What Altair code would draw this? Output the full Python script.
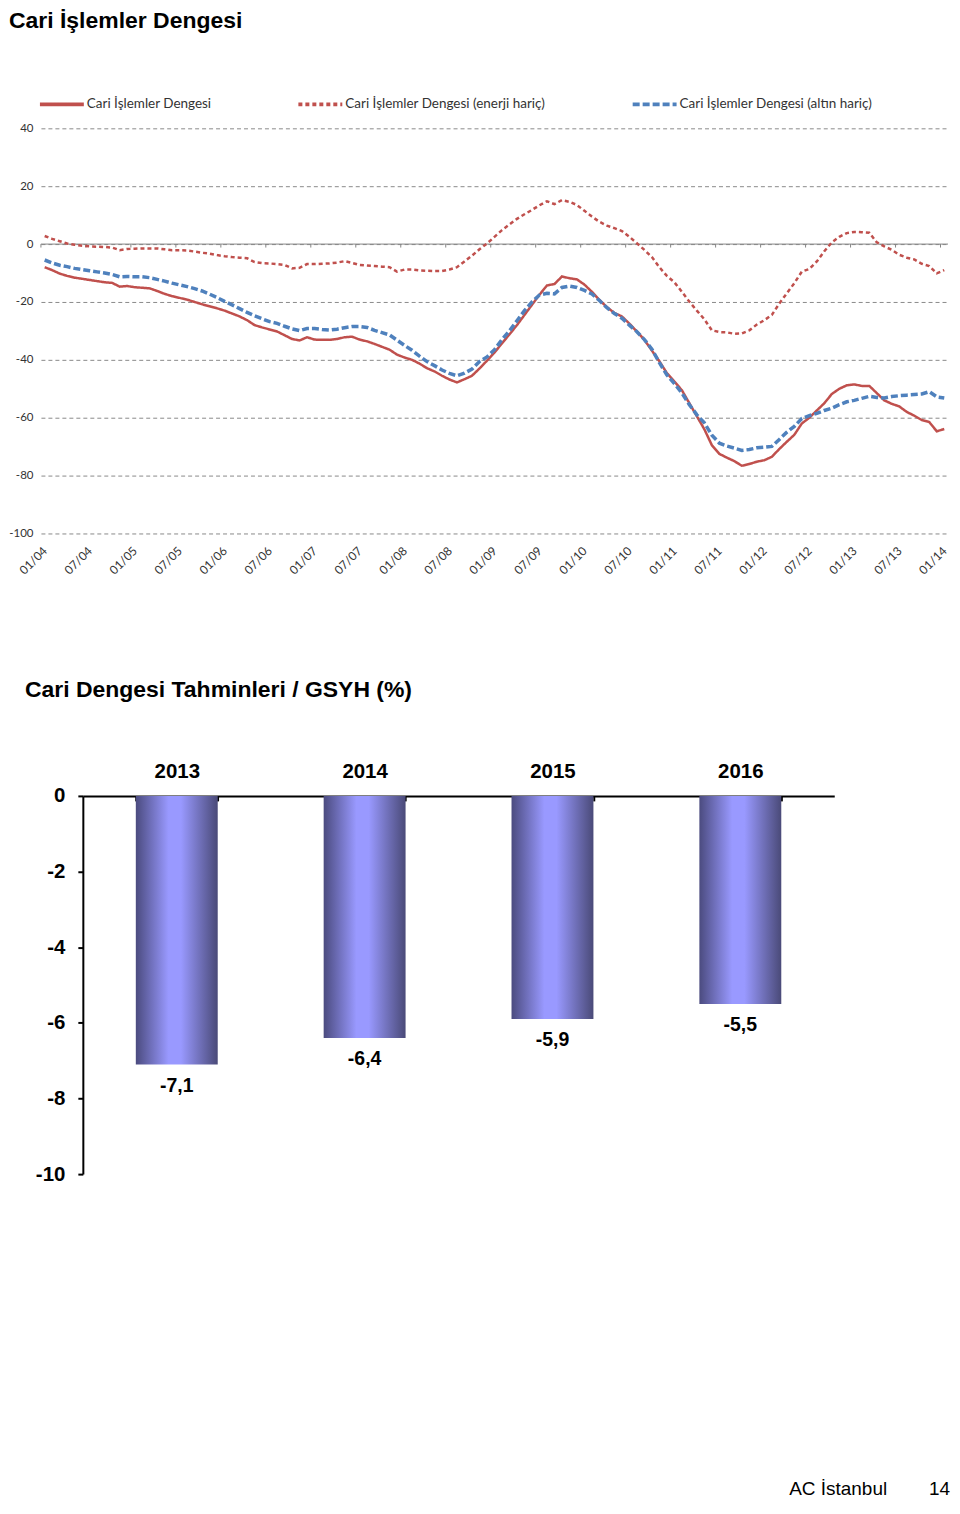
import json
import altair as alt
import pandas as pd

# ---------------- data ----------------
tick_labels = ["01/04", "07/04", "01/05", "07/05", "01/06", "07/06", "01/07", "07/07",
               "01/08", "07/08", "01/09", "07/09", "01/10", "07/10", "01/11", "07/11",
               "01/12", "07/12", "01/13", "07/13", "01/14"]

series_names = ["Cari İşlemler Dengesi",
                "Cari İşlemler Dengesi (enerji hariç)",
                "Cari İşlemler Dengesi (altın hariç)"]

cari = [-8.0, -9.0, -10.2, -11.0, -11.6, -12.0, -12.4, -12.8, -13.2, -13.4,
        -14.7, -14.5, -14.9, -15.1, -15.3, -16.2, -17.2, -18.0, -18.6, -19.2,
        -20.0, -20.8, -21.5, -22.2, -23.0, -24.0, -25.0, -26.3, -28.0, -28.8,
        -29.5, -30.2, -31.5, -32.8, -33.3, -32.2, -33.0, -33.1, -33.1, -32.8,
        -32.2, -32.0, -33.0, -33.6, -34.5, -35.5, -36.5, -38.2, -39.2, -40.0,
        -41.3, -42.9, -44.0, -45.5, -46.8, -47.8, -46.7, -45.5, -43.0, -40.3,
        -37.5, -34.3, -31.2, -28.0, -24.5, -21.0, -17.5, -14.3, -13.8, -11.2,
        -11.8, -12.2, -14.0, -16.5, -19.3, -21.8, -23.8, -25.0, -27.5, -30.2,
        -33.1, -36.8, -40.5, -44.6, -47.5, -50.5, -55.0, -59.5, -64.0, -69.5,
        -72.5, -73.8, -75.0, -76.6, -76.0, -75.2, -74.7, -73.5, -70.8, -68.3,
        -65.9, -62.0, -60.0, -57.5, -55.0, -51.8, -50.0, -48.8, -48.5, -49.0,
        -49.0, -51.5, -54.0, -55.2, -56.1, -58.0, -59.3, -60.8, -61.5, -64.7, -63.9]

enerji = [2.8, 1.8, 1.0, 0.2, -0.2, -0.6, -0.8, -0.9, -1.0, -1.2,
          -2.1, -1.7, -1.6, -1.5, -1.5, -1.5, -1.8, -2.1, -2.1, -2.2,
          -2.6, -3.0, -3.3, -3.8, -4.2, -4.5, -4.7, -4.9, -6.2, -6.6,
          -6.7, -6.9, -7.2, -8.4, -8.2, -6.9, -6.9, -6.8, -6.7, -6.4,
          -5.9, -6.5, -7.2, -7.4, -7.6, -7.8, -8.0, -9.5, -8.8, -8.8,
          -9.1, -9.2, -9.3, -9.3, -8.8, -8.0, -6.0, -4.0, -1.8, 0.2,
          2.5, 4.8, 6.8, 8.7, 10.3, 11.8, 13.4, 14.8, 13.8, 15.2,
          14.6, 13.5, 11.5, 9.5, 7.7, 6.4, 5.5, 4.5, 2.5, 0.3,
          -2.0, -4.5, -8.0, -11.0, -13.2, -16.5, -19.9, -23.0, -26.0, -29.8,
          -30.4, -30.5, -31.0, -30.9, -29.8, -27.8, -26.3, -24.5, -20.5, -17.0,
          -13.5, -9.5, -8.6, -6.0, -2.5, 0.6, 2.5, 3.8, 4.2, 4.1,
          3.9, 0.6, -0.8, -2.0, -3.7, -4.7, -5.3, -6.8, -7.6, -10.1, -9.0]

altin = [-5.5, -6.5, -7.3, -7.8, -8.4, -8.8, -9.2, -9.6, -10.0, -10.5,
         -11.3, -11.2, -11.3, -11.3, -11.6, -12.2, -12.8, -13.5, -14.1, -14.7,
         -15.4, -16.2, -17.3, -18.5, -19.8, -21.0, -22.3, -23.6, -24.8, -25.8,
         -26.8, -27.4, -28.4, -29.3, -29.9, -29.2, -29.2, -29.5, -29.7, -29.4,
         -28.9, -28.5, -28.5, -28.8, -29.8, -30.6, -31.4, -33.2, -35.0, -36.7,
         -38.7, -40.6, -42.0, -43.5, -44.7, -45.5, -44.6, -43.2, -40.6, -39.0,
         -36.5, -33.0, -30.0, -26.5, -23.0, -20.0, -17.6, -17.0, -17.2, -15.0,
         -14.5, -15.0, -16.0, -17.2, -19.5, -22.0, -24.0, -25.6, -28.0, -30.3,
         -33.0, -36.3, -41.0, -45.2, -48.2, -51.5, -55.5, -59.0, -61.8, -66.0,
         -68.8, -69.8, -70.5, -71.3, -71.0, -70.4, -70.2, -69.9, -67.5, -65.0,
         -63.0, -60.3, -59.3, -58.5, -57.5, -56.7, -55.5, -54.5, -54.0, -53.3,
         -52.6, -53.0, -53.2, -52.7, -52.4, -52.2, -52.0, -51.8, -51.0, -52.8, -53.2]

y_ticks = [40, 20, 0, -20, -40, -60, -80, -100]

years = ["2013", "2014", "2015", "2016"]
forecast = [-7.1, -6.4, -5.9, -5.5]
bar_y_ticks = [0, -2, -4, -6, -8, -10]

# ---------------- styles ----------------
series_colors = ["#C0504D", "#C0504D", "#4F81BD"]
series_dashes = [[1, 0], [4, 3], [7, 3]]
series_widths = [2.5, 2.5, 3.5]

n = len(cari)
line_df = pd.DataFrame({
    "idx": list(range(n)) * 3,
    "value": cari + enerji + altin,
    "series": [s for s in series_names for _ in range(n)],
})
tick_df = pd.DataFrame({"idx": [i - 0.5 for i in range(0, n, 6)]})

x_scale = alt.Scale(domain=[-0.5, n - 0.5], nice=False, zero=False)
y_scale = alt.Scale(domain=[-100, 40], nice=False, zero=False)

x_axis = alt.Axis(values=list(range(0, n, 6)),
                  labelExpr=json.dumps(tick_labels) + "[round(datum.value / 6)]",
                  labelAngle=-45, labelAlign="right", labelBaseline="middle",
                  labelPadding=15, ticks=False, tickSize=0, domain=False, grid=False,
                  labelFont="Lato", labelFontSize=12, labelColor="#333333",
                  labelOverlap=False, labelFlush=False, title=None)
y_axis = alt.Axis(values=y_ticks,
                  labelExpr="datum.value < 0 ? '-' + abs(datum.value) : '' + datum.value",
                  domain=False, ticks=False, grid=True, gridDash=[4, 3],
                  gridColor="#8a8a8a", gridWidth=1, labelFont="Lato",
                  labelFontSize=11.5, labelColor="#333333", labelPadding=8, title=None)

legend = alt.Legend(title=None, orient="none", legendX=-3, legendY=-48,
                    direction="horizontal", columns=3, symbolType="stroke",
                    symbolSize=1936, symbolStrokeWidth=4, labelFont="Lato",
                    labelFontSize=13.5, labelColor="#333333", labelOffset=1,
                    columnPadding=79, labelLimit=400, padding=0)
color = alt.Color("series:N", scale=alt.Scale(domain=series_names, range=series_colors),
                  legend=legend)
dash = alt.StrokeDash("series:N", scale=alt.Scale(domain=series_names, range=series_dashes),
                      legend=legend)

zero_line = alt.Chart(pd.DataFrame({"z": [0]})).mark_rule(
    color="#868686", strokeWidth=1).encode(y=alt.datum(0))
zero_ticks = alt.Chart(tick_df).mark_rule(color="#868686", strokeWidth=1).encode(
    x=alt.X("idx:Q", scale=x_scale, axis=x_axis, title=None),
    y=alt.datum(0), y2=alt.datum(-1.2))

lines = []
for name, w in zip(series_names, series_widths):
    lines.append(
        alt.Chart(line_df[line_df["series"] == name]).mark_line(strokeWidth=w).encode(
            x=alt.X("idx:Q", scale=x_scale, axis=x_axis, title=None),
            y=alt.Y("value:Q", scale=y_scale, axis=y_axis, title=None),
            color=color, strokeDash=dash))

line_chart = alt.layer(zero_line, zero_ticks, *lines).properties(
    width=909, height=406,
    title=alt.TitleParams("Cari İşlemler Dengesi", anchor="start", frame="group",
                          dx=-32, offset=90, font="Liberation Sans", fontSize=23,
                          fontWeight="bold", color="black"))

# ---------------- bar chart ----------------
bar_df = pd.DataFrame({"year": years, "v": forecast})

gradient = alt.LinearGradient(
    gradient="linear",
    stops=[alt.GradientStop(color="#4b4b7f", offset=0),
           alt.GradientStop(color="#9999ff", offset=0.4),
           alt.GradientStop(color="#9999ff", offset=0.55),
           alt.GradientStop(color="#4a4a78", offset=1)],
    x1=0, x2=1, y1=0, y2=0)

xb = alt.X("year:N", sort=years,
           scale=alt.Scale(domain=years, range=[42, 795], paddingInner=0.564,
                           paddingOuter=0.282),
           axis=alt.Axis(orient="bottom", offset=-379, domainColor="black", domainWidth=2,
                         tickColor="black", tickWidth=2, tickSize=5, tickBand="extent",
                         labelAngle=0, labelFont="Liberation Sans", labelFontSize=20.5,
                         labelFontWeight="bold", labelColor="black",
                         labelBaseline="alphabetic", labelPadding=-23, title=None))
yb = alt.Y("v:Q", scale=alt.Scale(domain=[-10, 0], nice=False),
           axis=alt.Axis(values=bar_y_ticks,
                         labelExpr="datum.value < 0 ? '-' + abs(datum.value) : '' + datum.value",
                         offset=-42, domainColor="black", domainWidth=2, tickColor="black",
                         tickWidth=2, tickSize=5, labelFont="Liberation Sans",
                         labelFontSize=20.5, labelFontWeight="bold", labelColor="black",
                         labelPadding=13, grid=False, title=None))

bars = alt.Chart(bar_df).mark_bar(color=gradient).encode(x=xb, y=yb, y2=alt.datum(0))
bar_labels = alt.Chart(bar_df).transform_calculate(
    lab="(datum.v < 0 ? '-' : '') + replace(format(abs(datum.v), '.1f'), '.', ',')"
).mark_text(baseline="top", dy=12.5, font="Liberation Sans", fontSize=19.5,
            fontWeight="bold", color="black").encode(
    x=alt.X("year:N", sort=years), y=alt.Y("v:Q"), text="lab:N")

bar_chart = alt.layer(bars, bar_labels).properties(
    width=797, height=379,
    title=alt.TitleParams("Cari Dengesi Tahminleri / GSYH (%)", anchor="start",
                          frame="group", dx=-16, offset=60, font="Liberation Sans",
                          fontSize=23, fontWeight="bold", color="black"))

# ---------------- footer ----------------
footer = alt.layer(
    alt.Chart(pd.DataFrame({"t": ["AC İstanbul"]})).mark_text(
        align="right", baseline="alphabetic", font="Liberation Sans", fontSize=19,
        color="black").encode(text="t:N", x=alt.value(848), y=alt.value(208)),
    alt.Chart(pd.DataFrame({"t": ["14"]})).mark_text(
        align="right", baseline="alphabetic", font="Liberation Sans", fontSize=19,
        color="black").encode(text="t:N", x=alt.value(911), y=alt.value(208)),
).properties(width=909, height=210)

chart = alt.vconcat(line_chart, bar_chart, footer, spacing=103).properties(
    padding=0).configure_view(strokeWidth=0)

chart.save("out.html", embed_options={"renderer": "svg", "actions": False})
